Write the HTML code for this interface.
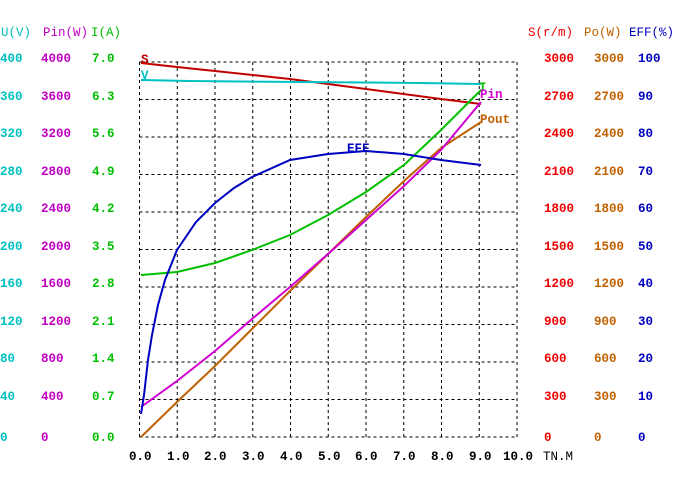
<!DOCTYPE html>
<html><head><meta charset="utf-8"><style>
html,body{margin:0;padding:0;background:#fff;width:682px;height:488px;overflow:hidden}
svg text{font-family:"Liberation Mono","DejaVu Sans Mono",monospace;font-size:12.5px}
.b{font-weight:bold}
</style></head><body>
<svg width="682" height="488" xmlns="http://www.w3.org/2000/svg">
<g stroke="#000" stroke-width="1" stroke-dasharray="3,3" fill="none">
<line x1="139.5" y1="62" x2="139.5" y2="437"/><line x1="177.25" y1="62" x2="177.25" y2="437"/><line x1="215" y1="62" x2="215" y2="437"/><line x1="252.75" y1="62" x2="252.75" y2="437"/><line x1="290.5" y1="62" x2="290.5" y2="437"/><line x1="328.25" y1="62" x2="328.25" y2="437"/><line x1="366" y1="62" x2="366" y2="437"/><line x1="403.75" y1="62" x2="403.75" y2="437"/><line x1="441.5" y1="62" x2="441.5" y2="437"/><line x1="479.25" y1="62" x2="479.25" y2="437"/><line x1="517" y1="62" x2="517" y2="437"/>
<line x1="139.5" y1="62" x2="517" y2="62"/><line x1="139.5" y1="99.5" x2="517" y2="99.5"/><line x1="139.5" y1="137" x2="517" y2="137"/><line x1="139.5" y1="174.5" x2="517" y2="174.5"/><line x1="139.5" y1="212" x2="517" y2="212"/><line x1="139.5" y1="249.5" x2="517" y2="249.5"/><line x1="139.5" y1="287" x2="517" y2="287"/><line x1="139.5" y1="324.5" x2="517" y2="324.5"/><line x1="139.5" y1="362" x2="517" y2="362"/><line x1="139.5" y1="399.5" x2="517" y2="399.5"/><line x1="139.5" y1="437" x2="517" y2="437"/>
</g>
<g fill="none" stroke-width="2">
<polyline stroke="#c00000" points="141,63 177,67 215,71 290,79 366,89 441,99 481,104"/>
<polyline stroke="#00c0c0" points="141,80 190,81 300,82 420,83 481,84"/>
<polyline stroke="#00c000" points="141,275 177,272 215,263 252,250 290,235 328,215 366,192 404,165 441,130 481,90"/>
<polyline stroke="#c06000" points="141,437 177,402 215,366 252,329 290,291 328,254 366,217 404,181 441,148 481,122"/>
<polyline stroke="#d000d0" points="141,407 177,381 215,351 252,319 290,287 328,254 366,220 404,186 441,150 481,102"/>
<polyline stroke="#0000c0" points="141,414 144,395 148,360 152,335 158,305 165,280 177,250 196,222 215,203 234,188 252,177 290,160 328,154 366,151 404,154 441,160 481,165"/>
</g>
<g class="b">
<text x="141" y="63" fill="#c00000">S</text>
<text x="141" y="79" fill="#00c0c0">V</text>
<text x="479" y="91" fill="#00c000">I</text>
<text x="480" y="98" fill="#d000d0">Pin</text>
<text x="480" y="123" fill="#c06000">Pout</text>
<text x="347" y="152" fill="#0000c0">EFF</text>
</g>
<g font-size="12">
<text x="1" y="36" fill="#00c0c0">U(V)</text>
<text x="43" y="36" fill="#c000c0">Pin(W)</text>
<text x="91" y="36" fill="#00c000">I(A)</text>
<text x="528" y="36" fill="#f00000">S(r/m)</text>
<text x="584" y="36" fill="#c06000">Po(W)</text>
<text x="629" y="36" fill="#0000c0">EFF(%)</text>
</g>
<g class="b">
<g fill="#00c0c0"><text x="0" y="62">400</text><text x="0" y="100">360</text><text x="0" y="137">320</text><text x="0" y="175">280</text><text x="0" y="212">240</text><text x="0" y="250">200</text><text x="0" y="287">160</text><text x="0" y="325">120</text><text x="0" y="362">80</text><text x="0" y="400">40</text><text x="0" y="441">0</text></g>
<g fill="#c000c0"><text x="41" y="62">4000</text><text x="41" y="100">3600</text><text x="41" y="137">3200</text><text x="41" y="175">2800</text><text x="41" y="212">2400</text><text x="41" y="250">2000</text><text x="41" y="287">1600</text><text x="41" y="325">1200</text><text x="41" y="362">800</text><text x="41" y="400">400</text><text x="41" y="441">0</text></g>
<g fill="#00c000"><text x="92" y="62">7.0</text><text x="92" y="100">6.3</text><text x="92" y="137">5.6</text><text x="92" y="175">4.9</text><text x="92" y="212">4.2</text><text x="92" y="250">3.5</text><text x="92" y="287">2.8</text><text x="92" y="325">2.1</text><text x="92" y="362">1.4</text><text x="92" y="400">0.7</text><text x="92" y="441">0.0</text></g>
<g fill="#f00000"><text x="544" y="62">3000</text><text x="544" y="100">2700</text><text x="544" y="137">2400</text><text x="544" y="175">2100</text><text x="544" y="212">1800</text><text x="544" y="250">1500</text><text x="544" y="287">1200</text><text x="544" y="325">900</text><text x="544" y="362">600</text><text x="544" y="400">300</text><text x="544" y="441">0</text></g>
<g fill="#c06000"><text x="594" y="62">3000</text><text x="594" y="100">2700</text><text x="594" y="137">2400</text><text x="594" y="175">2100</text><text x="594" y="212">1800</text><text x="594" y="250">1500</text><text x="594" y="287">1200</text><text x="594" y="325">900</text><text x="594" y="362">600</text><text x="594" y="400">300</text><text x="594" y="441">0</text></g>
<g fill="#0000c0"><text x="638" y="62">100</text><text x="638" y="100">90</text><text x="638" y="137">80</text><text x="638" y="175">70</text><text x="638" y="212">60</text><text x="638" y="250">50</text><text x="638" y="287">40</text><text x="638" y="325">30</text><text x="638" y="362">20</text><text x="638" y="400">10</text><text x="638" y="441">0</text></g>
<g fill="#000"><text x="129" y="460">0.0</text><text x="167" y="460">1.0</text><text x="204" y="460">2.0</text><text x="242" y="460">3.0</text><text x="280" y="460">4.0</text><text x="318" y="460">5.0</text><text x="355" y="460">6.0</text><text x="393" y="460">7.0</text><text x="431" y="460">8.0</text><text x="469" y="460">9.0</text><text x="503" y="460">10.0</text></g>
</g>
<text x="543" y="460" fill="#000" font-size="11">TN.M</text>
</svg>
</body></html>
